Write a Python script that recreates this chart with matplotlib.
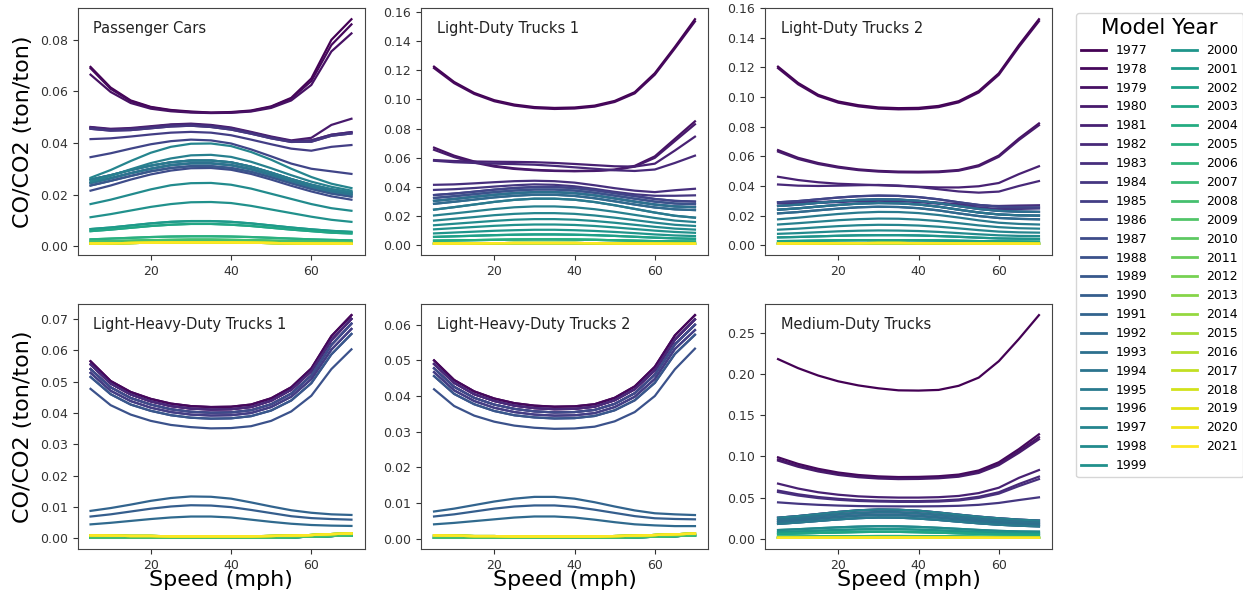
import matplotlib
matplotlib.use("Agg")
import matplotlib.pyplot as plt
from matplotlib.lines import Line2D

# Average speed bins (mph)
SPEEDS = [5, 10, 15, 20, 25, 30, 35, 40, 45, 50, 55, 60, 65, 70]
MODEL_YEARS = list(range(1977, 2022))

# ---- Passenger Cars: distinct CO/CO2 curves and the model year using each ----
PC_CURVES = {
    "A1": [0.0695, 0.0615, 0.0565, 0.0540, 0.0528, 0.0522, 0.0518, 0.0520, 0.0526, 0.0542, 0.0575, 0.0650, 0.0800, 0.0880],
    "A2": [0.0690, 0.0610, 0.0562, 0.0538, 0.0526, 0.0520, 0.0517, 0.0518, 0.0524, 0.0540, 0.0572, 0.0640, 0.0780, 0.0860],
    "A3": [0.0665, 0.0598, 0.0555, 0.0533, 0.0523, 0.0518, 0.0516, 0.0517, 0.0522, 0.0536, 0.0565, 0.0625, 0.0755, 0.0825],
    "B1": [0.0462, 0.0455, 0.0458, 0.0465, 0.0472, 0.0475, 0.0470, 0.0460, 0.0443, 0.0425, 0.0410, 0.0420, 0.0470, 0.0494],
    "B2": [0.0460, 0.0452, 0.0455, 0.0462, 0.0470, 0.0472, 0.0467, 0.0457, 0.0440, 0.0422, 0.0407, 0.0410, 0.0432, 0.0442],
    "B3": [0.0455, 0.0448, 0.0450, 0.0457, 0.0464, 0.0467, 0.0462, 0.0452, 0.0436, 0.0418, 0.0404, 0.0405, 0.0428, 0.0437],
    "B4": [0.0415, 0.0418, 0.0425, 0.0433, 0.0440, 0.0443, 0.0440, 0.0430, 0.0413, 0.0395, 0.0378, 0.0370, 0.0385, 0.0392],
    "C":  [0.0345, 0.0360, 0.0378, 0.0395, 0.0407, 0.0413, 0.0410, 0.0398, 0.0375, 0.0348, 0.0320, 0.0300, 0.0290, 0.0280],
    "D1": [0.0265, 0.0295, 0.0330, 0.0362, 0.0385, 0.0397, 0.0398, 0.0388, 0.0365, 0.0335, 0.0300, 0.0268, 0.0242, 0.0225],
    "D2": [0.0250, 0.0272, 0.0298, 0.0322, 0.0340, 0.0352, 0.0354, 0.0346, 0.0327, 0.0302, 0.0275, 0.0250, 0.0230, 0.0215],
    "D3": [0.0258, 0.0275, 0.0295, 0.0312, 0.0325, 0.0332, 0.0332, 0.0325, 0.0308, 0.0285, 0.0260, 0.0238, 0.0220, 0.0208],
    "D4": [0.0245, 0.0263, 0.0283, 0.0300, 0.0314, 0.0321, 0.0321, 0.0314, 0.0298, 0.0276, 0.0252, 0.0230, 0.0212, 0.0200],
    "D5": [0.0235, 0.0253, 0.0272, 0.0290, 0.0303, 0.0310, 0.0310, 0.0303, 0.0288, 0.0267, 0.0244, 0.0222, 0.0204, 0.0192],
    "D6": [0.0215, 0.0235, 0.0258, 0.0278, 0.0293, 0.0302, 0.0303, 0.0296, 0.0280, 0.0258, 0.0234, 0.0212, 0.0193, 0.0180],
    "E":  [0.0163, 0.0180, 0.0200, 0.0220, 0.0236, 0.0244, 0.0245, 0.0238, 0.0223, 0.0203, 0.0183, 0.0163, 0.0147, 0.0137],
    "F":  [0.0112, 0.0124, 0.0138, 0.0152, 0.0163, 0.0170, 0.0171, 0.0167, 0.0156, 0.0142, 0.0128, 0.0114, 0.0102, 0.0094],
    "G1": [0.0066, 0.0072, 0.0080, 0.0088, 0.0094, 0.0097, 0.0097, 0.0094, 0.0088, 0.0080, 0.0072, 0.0065, 0.0059, 0.0055],
    "G2": [0.0058, 0.0064, 0.0071, 0.0078, 0.0083, 0.0086, 0.0086, 0.0083, 0.0078, 0.0071, 0.0064, 0.0058, 0.0052, 0.0049],
    "H":  [0.0026, 0.0029, 0.0032, 0.0035, 0.0037, 0.0038, 0.0038, 0.0037, 0.0035, 0.0032, 0.0029, 0.0026, 0.0024, 0.0022],
    "I1": [0.0018, 0.0019, 0.0021, 0.0023, 0.0024, 0.0025, 0.0025, 0.0024, 0.0023, 0.0021, 0.0019, 0.0018, 0.0017, 0.0016],
    "I2": [0.0010, 0.0011, 0.0012, 0.0013, 0.0014, 0.0014, 0.0014, 0.0014, 0.0013, 0.0012, 0.0011, 0.0010, 0.0010, 0.0009],
}
PC_YEAR_CURVE = ["A1", "A2", "A3", "B1", "B2", "B2", "B3", "B3", "B4", "C",
                 "D6", "D5", "D5", "D4", "D4", "D3", "D3", "D4", "D3", "D2",
                 "D1", "E", "F", "G1", "G1", "G2", "G2", "H", "H", "I1",
                 "I1", "I1", "I2", "I2", "I2", "I2", "I2", "I2", "I2", "I2",
                 "I2", "I2", "I2", "I2", "I2"]

# ---- Light-Duty Trucks 1 ----
LDT1_CURVES = {
    "A1": [0.1225, 0.1120, 0.1045, 0.0995, 0.0965, 0.0948, 0.0942, 0.0945, 0.0958, 0.0990, 0.1050, 0.1180, 0.1360, 0.1550],
    "A2": [0.1215, 0.1112, 0.1038, 0.0988, 0.0958, 0.0941, 0.0935, 0.0938, 0.0951, 0.0983, 0.1042, 0.1170, 0.1350, 0.1535],
    "B1": [0.0670, 0.0615, 0.0575, 0.0545, 0.0528, 0.0518, 0.0512, 0.0510, 0.0512, 0.0520, 0.0545, 0.0610, 0.0730, 0.0850],
    "B2": [0.0655, 0.0605, 0.0567, 0.0540, 0.0524, 0.0515, 0.0510, 0.0508, 0.0510, 0.0517, 0.0540, 0.0600, 0.0715, 0.0830],
    "C1": [0.0585, 0.0578, 0.0575, 0.0573, 0.0572, 0.0570, 0.0565, 0.0558, 0.0550, 0.0542, 0.0540, 0.0560, 0.0650, 0.0745],
    "C2": [0.0580, 0.0570, 0.0565, 0.0560, 0.0557, 0.0553, 0.0545, 0.0535, 0.0525, 0.0515, 0.0510, 0.0520, 0.0565, 0.0615],
    "D1": [0.0415, 0.0418, 0.0425, 0.0433, 0.0440, 0.0443, 0.0440, 0.0430, 0.0412, 0.0392, 0.0375, 0.0365, 0.0378, 0.0388],
    "D2": [0.0380, 0.0385, 0.0393, 0.0403, 0.0412, 0.0418, 0.0415, 0.0405, 0.0387, 0.0367, 0.0350, 0.0340, 0.0340, 0.0343],
    "E1": [0.0345, 0.0355, 0.0368, 0.0382, 0.0393, 0.0400, 0.0400, 0.0393, 0.0378, 0.0358, 0.0338, 0.0318, 0.0305, 0.0300],
    "E2": [0.0325, 0.0337, 0.0351, 0.0365, 0.0376, 0.0383, 0.0383, 0.0376, 0.0361, 0.0341, 0.0320, 0.0300, 0.0287, 0.0282],
    "E3": [0.0305, 0.0318, 0.0333, 0.0347, 0.0358, 0.0365, 0.0365, 0.0358, 0.0343, 0.0322, 0.0300, 0.0280, 0.0267, 0.0262],
    "E4": [0.0285, 0.0299, 0.0314, 0.0329, 0.0340, 0.0347, 0.0347, 0.0339, 0.0323, 0.0302, 0.0280, 0.0260, 0.0247, 0.0242],
    "F1": [0.0245, 0.0262, 0.0280, 0.0298, 0.0312, 0.0320, 0.0320, 0.0313, 0.0297, 0.0275, 0.0250, 0.0225, 0.0203, 0.0190],
    "F2": [0.0205, 0.0219, 0.0234, 0.0249, 0.0261, 0.0267, 0.0267, 0.0261, 0.0248, 0.0230, 0.0209, 0.0188, 0.0170, 0.0160],
    "F3": [0.0170, 0.0182, 0.0194, 0.0207, 0.0216, 0.0221, 0.0221, 0.0216, 0.0205, 0.0190, 0.0173, 0.0156, 0.0141, 0.0133],
    "F4": [0.0138, 0.0148, 0.0158, 0.0168, 0.0176, 0.0180, 0.0180, 0.0176, 0.0167, 0.0155, 0.0141, 0.0127, 0.0115, 0.0108],
    "F5": [0.0110, 0.0118, 0.0126, 0.0134, 0.0140, 0.0143, 0.0143, 0.0140, 0.0133, 0.0123, 0.0112, 0.0101, 0.0092, 0.0086],
    "F6": [0.0082, 0.0088, 0.0094, 0.0100, 0.0104, 0.0107, 0.0107, 0.0104, 0.0099, 0.0092, 0.0084, 0.0075, 0.0068, 0.0064],
    "F7": [0.0058, 0.0062, 0.0066, 0.0070, 0.0073, 0.0075, 0.0075, 0.0073, 0.0070, 0.0065, 0.0059, 0.0053, 0.0048, 0.0045],
    "F8": [0.0032, 0.0034, 0.0036, 0.0038, 0.0040, 0.0041, 0.0041, 0.0040, 0.0038, 0.0035, 0.0032, 0.0029, 0.0027, 0.0026],
    "G":  [0.0012, 0.0013, 0.0014, 0.0015, 0.0016, 0.0016, 0.0016, 0.0016, 0.0015, 0.0014, 0.0013, 0.0012, 0.0011, 0.0011],
}
LDT1_YEAR_CURVE = ["A1", "A2", "B1", "B2", "C1", "C2", "D1", "D2", "E1", "E1",
                   "E2", "E2", "E3", "E3", "E4", "E4", "E3", "F1", "F1", "F2",
                   "F3", "F4", "F5", "F6", "F7", "F7", "F8", "F8", "F8", "G",
                   "G", "G", "G", "G", "G", "G", "G", "G", "G", "G",
                   "G", "G", "G", "G", "G"]

# ---- Light-Duty Trucks 2 ----
LDT2_CURVES = {
    "A1": [0.1205, 0.1095, 0.1015, 0.0970, 0.0945, 0.0930, 0.0925, 0.0927, 0.0940, 0.0972, 0.1040, 0.1160, 0.1350, 0.1525],
    "A2": [0.1195, 0.1086, 0.1007, 0.0962, 0.0937, 0.0922, 0.0917, 0.0919, 0.0932, 0.0964, 0.1031, 0.1150, 0.1338, 0.1512],
    "B1": [0.0642, 0.0590, 0.0555, 0.0530, 0.0512, 0.0502, 0.0497, 0.0496, 0.0498, 0.0508, 0.0540, 0.0605, 0.0720, 0.0822],
    "B2": [0.0632, 0.0582, 0.0548, 0.0524, 0.0507, 0.0497, 0.0492, 0.0491, 0.0493, 0.0503, 0.0533, 0.0597, 0.0710, 0.0810],
    "C1": [0.0462, 0.0440, 0.0425, 0.0415, 0.0410, 0.0405, 0.0400, 0.0395, 0.0390, 0.0390, 0.0398, 0.0420, 0.0480, 0.0533],
    "C2": [0.0410, 0.0402, 0.0400, 0.0402, 0.0405, 0.0407, 0.0403, 0.0393, 0.0378, 0.0363, 0.0355, 0.0362, 0.0400, 0.0433],
    "D1": [0.0290, 0.0290, 0.0292, 0.0297, 0.0302, 0.0305, 0.0303, 0.0297, 0.0287, 0.0277, 0.0268, 0.0265, 0.0268, 0.0270],
    "D2": [0.0282, 0.0283, 0.0286, 0.0291, 0.0297, 0.0300, 0.0298, 0.0291, 0.0280, 0.0268, 0.0255, 0.0245, 0.0245, 0.0248],
    "E1": [0.0290, 0.0298, 0.0310, 0.0322, 0.0331, 0.0335, 0.0333, 0.0325, 0.0310, 0.0290, 0.0272, 0.0260, 0.0256, 0.0255],
    "E2": [0.0265, 0.0274, 0.0286, 0.0298, 0.0306, 0.0310, 0.0308, 0.0300, 0.0284, 0.0264, 0.0245, 0.0232, 0.0227, 0.0225],
    "E3": [0.0240, 0.0249, 0.0261, 0.0272, 0.0281, 0.0285, 0.0283, 0.0275, 0.0260, 0.0240, 0.0221, 0.0208, 0.0202, 0.0200],
    "E4": [0.0215, 0.0224, 0.0236, 0.0247, 0.0256, 0.0260, 0.0258, 0.0250, 0.0235, 0.0215, 0.0197, 0.0184, 0.0178, 0.0175],
    "F1": [0.0175, 0.0186, 0.0199, 0.0211, 0.0220, 0.0225, 0.0224, 0.0217, 0.0204, 0.0187, 0.0168, 0.0152, 0.0144, 0.0140],
    "F2": [0.0140, 0.0149, 0.0159, 0.0169, 0.0176, 0.0180, 0.0179, 0.0173, 0.0163, 0.0149, 0.0134, 0.0122, 0.0115, 0.0112],
    "F3": [0.0105, 0.0112, 0.0121, 0.0129, 0.0135, 0.0138, 0.0137, 0.0133, 0.0125, 0.0114, 0.0102, 0.0092, 0.0087, 0.0085],
    "F4": [0.0077, 0.0082, 0.0088, 0.0094, 0.0098, 0.0100, 0.0099, 0.0096, 0.0090, 0.0082, 0.0074, 0.0067, 0.0063, 0.0062],
    "F5": [0.0053, 0.0056, 0.0060, 0.0064, 0.0067, 0.0068, 0.0068, 0.0066, 0.0062, 0.0057, 0.0051, 0.0046, 0.0044, 0.0043],
    "F6": [0.0028, 0.0029, 0.0031, 0.0033, 0.0034, 0.0034, 0.0034, 0.0033, 0.0032, 0.0030, 0.0028, 0.0026, 0.0025, 0.0024],
    "G":  [0.0011, 0.0012, 0.0013, 0.0014, 0.0014, 0.0015, 0.0015, 0.0014, 0.0014, 0.0013, 0.0012, 0.0011, 0.0011, 0.0010],
}
LDT2_YEAR_CURVE = ["A1", "A2", "B1", "B2", "C1", "C2", "D1", "D2", "E1", "E1",
                   "E2", "E2", "E3", "E3", "E4", "E4", "E2", "E3", "F1", "F2",
                   "F3", "F4", "F5", "F5", "F6", "F6", "F6", "G", "G", "G",
                   "G", "G", "G", "G", "G", "G", "G", "G", "G", "G",
                   "G", "G", "G", "G", "G"]

# ---- Light-Heavy-Duty Trucks 1 ----
LHDT1_CURVES = {
    "H1": [0.0565, 0.0502, 0.0467, 0.0445, 0.0430, 0.0422, 0.0419, 0.0420, 0.0427, 0.0447, 0.0482, 0.0542, 0.0645, 0.0712],
    "H2": [0.0555, 0.0494, 0.0459, 0.0437, 0.0422, 0.0414, 0.0411, 0.0412, 0.0419, 0.0439, 0.0474, 0.0533, 0.0632, 0.0700],
    "H3": [0.0540, 0.0482, 0.0448, 0.0427, 0.0412, 0.0404, 0.0401, 0.0402, 0.0409, 0.0428, 0.0462, 0.0520, 0.0617, 0.0685],
    "H4": [0.0528, 0.0471, 0.0438, 0.0417, 0.0403, 0.0395, 0.0392, 0.0393, 0.0400, 0.0419, 0.0452, 0.0508, 0.0602, 0.0668],
    "H5": [0.0515, 0.0460, 0.0427, 0.0407, 0.0393, 0.0385, 0.0382, 0.0383, 0.0390, 0.0408, 0.0440, 0.0495, 0.0587, 0.0652],
    "H6": [0.0477, 0.0425, 0.0395, 0.0375, 0.0362, 0.0355, 0.0351, 0.0352, 0.0358, 0.0375, 0.0405, 0.0455, 0.0540, 0.0603],
    "L1": [0.0088, 0.0097, 0.0108, 0.0120, 0.0129, 0.0134, 0.0133, 0.0127, 0.0115, 0.0102, 0.0090, 0.0082, 0.0077, 0.0075],
    "L2": [0.0070, 0.0077, 0.0086, 0.0095, 0.0102, 0.0106, 0.0105, 0.0100, 0.0091, 0.0081, 0.0071, 0.0065, 0.0062, 0.0060],
    "L3": [0.0045, 0.0050, 0.0056, 0.0062, 0.0067, 0.0070, 0.0070, 0.0067, 0.0060, 0.0053, 0.0047, 0.0043, 0.0041, 0.0040],
    "M1": [0.0010, 0.0009, 0.0008, 0.0008, 0.0007, 0.0007, 0.0007, 0.0007, 0.0007, 0.0008, 0.0009, 0.0011, 0.0014, 0.0016],
    "M2": [0.0002, 0.0002, 0.0002, 0.0002, 0.0002, 0.0002, 0.0002, 0.0002, 0.0002, 0.0003, 0.0004, 0.0006, 0.0008, 0.0010],
}
LHDT1_YEAR_CURVE = ["H1", "H1", "H2", "H2", "H3", "H2", "H3", "H4", "H4", "H5",
                    "H3", "H6", "H5", "L2", "L1", "L3", "M2", "M2", "M2", "M2",
                    "M2", "M2", "M2", "M2", "M2", "M2", "M2", "M2", "M2", "M2",
                    "M2", "M2", "M1", "M1", "M1", "M1", "M1", "M1", "M1", "M1",
                    "M1", "M1", "M1", "M1", "M1"]

# ---- Light-Heavy-Duty Trucks 2 ----
LHDT2_CURVES = {
    "H1": [0.0500, 0.0445, 0.0413, 0.0393, 0.0380, 0.0373, 0.0370, 0.0371, 0.0377, 0.0395, 0.0427, 0.0482, 0.0570, 0.0627],
    "H2": [0.0490, 0.0437, 0.0405, 0.0386, 0.0373, 0.0366, 0.0363, 0.0364, 0.0370, 0.0388, 0.0419, 0.0472, 0.0558, 0.0615],
    "H3": [0.0478, 0.0426, 0.0395, 0.0376, 0.0364, 0.0357, 0.0354, 0.0355, 0.0361, 0.0378, 0.0408, 0.0460, 0.0545, 0.0600],
    "H4": [0.0467, 0.0416, 0.0386, 0.0367, 0.0355, 0.0348, 0.0345, 0.0346, 0.0352, 0.0369, 0.0398, 0.0448, 0.0532, 0.0585],
    "H5": [0.0456, 0.0406, 0.0377, 0.0358, 0.0346, 0.0340, 0.0337, 0.0338, 0.0344, 0.0360, 0.0388, 0.0437, 0.0518, 0.0572],
    "H6": [0.0419, 0.0372, 0.0345, 0.0328, 0.0317, 0.0311, 0.0308, 0.0309, 0.0314, 0.0329, 0.0355, 0.0400, 0.0475, 0.0533],
    "L1": [0.0076, 0.0084, 0.0094, 0.0104, 0.0112, 0.0117, 0.0117, 0.0112, 0.0102, 0.0090, 0.0079, 0.0071, 0.0068, 0.0066],
    "L2": [0.0062, 0.0068, 0.0076, 0.0084, 0.0090, 0.0093, 0.0093, 0.0089, 0.0081, 0.0072, 0.0063, 0.0057, 0.0055, 0.0054],
    "L3": [0.0040, 0.0044, 0.0049, 0.0054, 0.0059, 0.0062, 0.0062, 0.0059, 0.0053, 0.0046, 0.0040, 0.0037, 0.0035, 0.0035],
    "M1": [0.0009, 0.0008, 0.0007, 0.0007, 0.0006, 0.0006, 0.0006, 0.0006, 0.0006, 0.0007, 0.0008, 0.0010, 0.0012, 0.0014],
    "M2": [0.0002, 0.0002, 0.0002, 0.0002, 0.0002, 0.0002, 0.0002, 0.0002, 0.0002, 0.0003, 0.0004, 0.0005, 0.0007, 0.0009],
}
LHDT2_YEAR_CURVE = list(LHDT1_YEAR_CURVE)

# ---- Medium-Duty Trucks ----
MDT_CURVES = {
    "A":   [0.2185, 0.2075, 0.1985, 0.1915, 0.1865, 0.1830, 0.1805, 0.1802, 0.1810, 0.1860, 0.1960, 0.2160, 0.2430, 0.2720],
    "B1":  [0.0990, 0.0910, 0.0850, 0.0805, 0.0775, 0.0758, 0.0750, 0.0752, 0.0760, 0.0780, 0.0830, 0.0930, 0.1090, 0.1270],
    "B2":  [0.0965, 0.0888, 0.0830, 0.0787, 0.0758, 0.0742, 0.0735, 0.0737, 0.0745, 0.0765, 0.0812, 0.0910, 0.1065, 0.1235],
    "B3":  [0.0950, 0.0875, 0.0818, 0.0776, 0.0748, 0.0732, 0.0725, 0.0727, 0.0735, 0.0754, 0.0800, 0.0895, 0.1045, 0.1210],
    "C1":  [0.0670, 0.0610, 0.0565, 0.0535, 0.0515, 0.0505, 0.0500, 0.0500, 0.0505, 0.0520, 0.0555, 0.0620, 0.0740, 0.0835],
    "C2a": [0.0585, 0.0540, 0.0507, 0.0485, 0.0470, 0.0462, 0.0458, 0.0458, 0.0463, 0.0477, 0.0510, 0.0565, 0.0665, 0.0755],
    "C2b": [0.0568, 0.0525, 0.0494, 0.0473, 0.0459, 0.0452, 0.0448, 0.0448, 0.0452, 0.0465, 0.0496, 0.0548, 0.0640, 0.0725],
    "C3":  [0.0442, 0.0425, 0.0412, 0.0403, 0.0397, 0.0394, 0.0393, 0.0393, 0.0395, 0.0400, 0.0412, 0.0435, 0.0470, 0.0503],
    "D1":  [0.0255, 0.0275, 0.0300, 0.0325, 0.0345, 0.0355, 0.0352, 0.0340, 0.0318, 0.0292, 0.0268, 0.0248, 0.0232, 0.0220],
    "D2":  [0.0230, 0.0250, 0.0273, 0.0295, 0.0313, 0.0322, 0.0320, 0.0308, 0.0288, 0.0264, 0.0240, 0.0220, 0.0205, 0.0195],
    "D3":  [0.0205, 0.0224, 0.0245, 0.0265, 0.0282, 0.0290, 0.0288, 0.0277, 0.0258, 0.0235, 0.0213, 0.0195, 0.0181, 0.0172],
    "D4":  [0.0180, 0.0197, 0.0216, 0.0235, 0.0250, 0.0258, 0.0256, 0.0245, 0.0228, 0.0207, 0.0187, 0.0170, 0.0158, 0.0150],
    "E1":  [0.0105, 0.0115, 0.0127, 0.0138, 0.0147, 0.0152, 0.0150, 0.0143, 0.0132, 0.0119, 0.0106, 0.0095, 0.0088, 0.0085],
    "E2":  [0.0080, 0.0088, 0.0097, 0.0106, 0.0113, 0.0117, 0.0116, 0.0110, 0.0101, 0.0091, 0.0081, 0.0073, 0.0068, 0.0065],
    "E3":  [0.0058, 0.0064, 0.0070, 0.0076, 0.0081, 0.0084, 0.0083, 0.0079, 0.0073, 0.0066, 0.0059, 0.0053, 0.0050, 0.0048],
    "F":   [0.0025, 0.0026, 0.0028, 0.0030, 0.0031, 0.0032, 0.0032, 0.0031, 0.0029, 0.0027, 0.0025, 0.0023, 0.0022, 0.0021],
    "G":   [0.0010, 0.0011, 0.0012, 0.0013, 0.0013, 0.0014, 0.0014, 0.0013, 0.0013, 0.0012, 0.0011, 0.0010, 0.0010, 0.0010],
}
MDT_YEAR_CURVE = ["A", "B1", "B2", "B3", "C1", "C2a", "C2b", "C3", "D1", "D1",
                  "D2", "D2", "D3", "D3", "D4", "D4", "D3", "D2", "D4", "D1",
                  "E1", "E1", "E2", "E2", "E3", "E3", "E3", "F", "F", "F",
                  "G", "G", "G", "G", "G", "G", "G", "G", "G", "G",
                  "G", "G", "G", "G", "G"]

PANELS = [
    ("Passenger Cars", PC_CURVES, PC_YEAR_CURVE),
    ("Light-Duty Trucks 1", LDT1_CURVES, LDT1_YEAR_CURVE),
    ("Light-Duty Trucks 2", LDT2_CURVES, LDT2_YEAR_CURVE),
    ("Light-Heavy-Duty Trucks 1", LHDT1_CURVES, LHDT1_YEAR_CURVE),
    ("Light-Heavy-Duty Trucks 2", LHDT2_CURVES, LHDT2_YEAR_CURVE),
    ("Medium-Duty Trucks", MDT_CURVES, MDT_YEAR_CURVE),
]

W, H = 1243, 602
fig = plt.figure(figsize=(W / 100, H / 100), dpi=100)

col_left = [77.5, 421, 765]
ax_w = 287
rows = [(8, 255), (304, 549)]

cmap = plt.get_cmap("viridis")
n = len(MODEL_YEARS)
colors = [cmap(i / (n - 1)) for i in range(n)]

axes = []
for r, (top, bot) in enumerate(rows):
    for c, left in enumerate(col_left):
        ax = fig.add_axes([left / W, 1 - bot / H, ax_w / W, (bot - top) / H])
        axes.append(ax)

for idx, (ax, (name, curves, year_curve)) in enumerate(zip(axes, PANELS)):
    for year, key, col in zip(MODEL_YEARS, year_curve, colors):
        ax.plot(SPEEDS, curves[key], color=col, lw=1.6)
    ax.text(0.055, 0.915, name, transform=ax.transAxes, fontsize=10.5,
            ha="left", va="center", color="#222222")
    ax.set_xticks([20, 40, 60])
    ax.tick_params(labelsize=9, colors="#333333")
    for sp in ax.spines.values():
        sp.set_color("#444444")
    if idx % 3 == 0:
        ax.set_ylabel("CO/CO2 (ton/ton)", fontsize=16)
        ax.yaxis.set_label_coords(-0.155, 0.5)
    if idx >= 3:
        ax.set_xlabel("Speed (mph)", fontsize=16)
        ax.xaxis.set_label_coords(0.5, -0.085)

handles = [Line2D([], [], color=col, lw=2) for col in colors]
labels = [str(y) for y in MODEL_YEARS]
leg = fig.legend(handles, labels, title="Model Year", ncol=2, fontsize=9,
                 title_fontsize=15.5, loc="upper left",
                 bbox_to_anchor=(1076 / W, 1 - 13 / H), borderaxespad=0,
                 labelspacing=0.47, columnspacing=1.9, frameon=True)
leg.get_frame().set_edgecolor("#cccccc")

fig.savefig("out.png", dpi=100)
